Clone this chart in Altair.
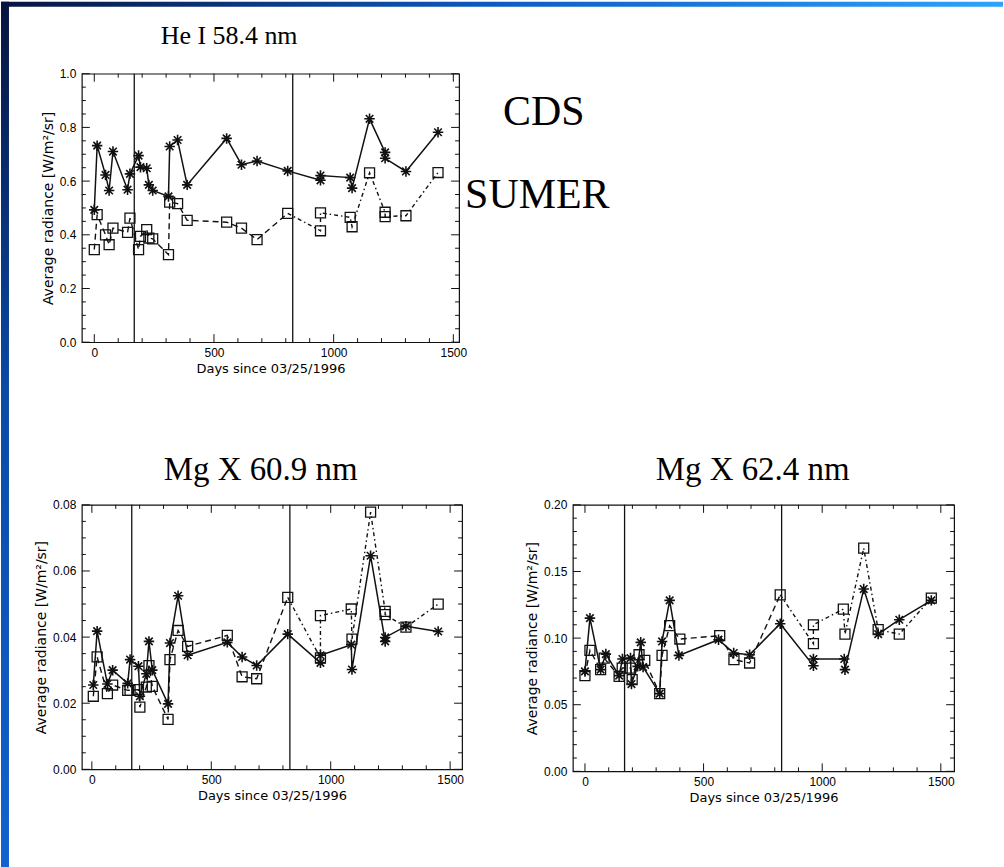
import altair as alt
import pandas as pd

# ---------------- He I 58.4 nm ----------------
he_days = [0, 12, 47, 62, 78, 139, 149, 185, 193, 219, 228, 244, 310, 315, 348,
           388, 553, 615, 680, 808, 945, 945, 1069, 1077, 1150, 1215, 1215, 1302, 1436]
he_cds = [0.493, 0.732, 0.623, 0.565, 0.710, 0.568, 0.627, 0.695, 0.652, 0.648,
          0.586, 0.565, 0.543, 0.729, 0.753, 0.586, 0.759, 0.661, 0.675, 0.638,
          0.603, 0.621, 0.613, 0.574, 0.832, 0.707, 0.685, 0.636, 0.782]
he_sumer = [0.345, 0.475, 0.400, 0.363, 0.425, 0.409, 0.462, 0.345, 0.394, 0.419,
            0.388, 0.385, 0.326, 0.522, 0.516, 0.454, 0.447, 0.425, 0.382, 0.480,
            0.415, 0.482, 0.465, 0.430, 0.631, 0.484, 0.468, 0.471, 0.632]

# ---------------- Mg X 60.9 nm ----------------
mg609_days = [6, 22, 65, 87, 150, 160, 195, 201, 228, 239, 253, 319, 327, 361,
              401, 567, 629, 690, 820, 957, 957, 1086, 1089, 1167, 1228, 1228, 1315, 1450]
mg609_cds = [0.0255, 0.0418, 0.0258, 0.0300, 0.0260, 0.0332, 0.0312, 0.0221, 0.0289,
             0.0387, 0.0300, 0.0198, 0.0382, 0.0525, 0.0345, 0.0384, 0.0340, 0.0314,
             0.0409, 0.0322, 0.0345, 0.0377, 0.0302, 0.0646, 0.0387, 0.0399, 0.0433, 0.0417]
mg609_sumer = [0.0221, 0.0340, 0.0229, 0.0255, 0.0239, 0.0239, 0.0241, 0.0188, 0.0249,
               0.0314, 0.0251, 0.0151, 0.0332, 0.0420, 0.0372, 0.0405, 0.0280, 0.0274,
               0.0520, 0.0337, 0.0465, 0.0485, 0.0394, 0.0778, 0.0478, 0.0468, 0.0430, 0.0500]

# ---------------- Mg X 62.4 nm ----------------
mg624_cds_days = [0, 21, 66, 88, 144, 158, 192, 196, 222, 235, 245, 315, 325, 357,
                  396, 563, 627, 694, 823, 963, 963, 1093, 1096, 1175, 1236, 1325, 1460]
mg624_cds = [0.0750, 0.1150, 0.0763, 0.0880, 0.0718, 0.0843, 0.0850, 0.0655, 0.0788,
             0.0968, 0.0783, 0.0583, 0.0975, 0.1283, 0.0870, 0.0988, 0.0888, 0.0875,
             0.1108, 0.0793, 0.0843, 0.0843, 0.0763, 0.1368, 0.1030, 0.1138, 0.1283]
mg624_sumer_days = [0, 21, 66, 81, 144, 157, 192, 199, 228, 252, 315, 325, 357,
                    400, 568, 628, 694, 823, 963, 963, 1089, 1096, 1175, 1236, 1325, 1460]
mg624_sumer = [0.0718, 0.0908, 0.0763, 0.0850, 0.0713, 0.0775, 0.0775, 0.0688, 0.0875,
               0.0833, 0.0583, 0.0870, 0.1093, 0.0993, 0.1018, 0.0838, 0.0813, 0.1325,
               0.0958, 0.1100, 0.1218, 0.1030, 0.1675, 0.1063, 0.1030, 0.1300]

# Days marked with vertical lines (instrument interruptions)
event_days = [167, 829]

# Axis tick positions
x_major = [0, 500, 1000, 1500]
x_minor = [100, 200, 300, 400, 600, 700, 800, 900, 1100, 1200, 1300, 1400]
he_y_major = [0.0, 0.2, 0.4, 0.6, 0.8, 1.0]
he_y_minor = [0.05, 0.1, 0.15, 0.25, 0.3, 0.35, 0.45, 0.5, 0.55, 0.65, 0.7, 0.75,
              0.85, 0.9, 0.95]
mg609_y_major = [0.0, 0.02, 0.04, 0.06, 0.08]
mg609_y_minor = [0.005, 0.01, 0.015, 0.025, 0.03, 0.035, 0.045, 0.05, 0.055,
                 0.065, 0.07, 0.075]
mg624_y_major = [0.0, 0.05, 0.10, 0.15, 0.20]
mg624_y_minor = [0.01, 0.02, 0.03, 0.04, 0.06, 0.07, 0.08, 0.09, 0.11, 0.12, 0.13,
                 0.14, 0.16, 0.17, 0.18, 0.19]

ASTERISK = "M-1,0L1,0M0,-1L0,1M-0.72,-0.72L0.72,0.72M-0.72,0.72L0.72,-0.72"
INK = "#111111"
SANS = "Liberation Sans"
TITLE_SANS = "DejaVu Sans"
SERIF = "Liberation Serif"


def panel(cds_days, cds_vals, sumer_days, sumer_vals, xdom, ydom, y_major, y_minor,
          yfmt, w, h, title, title_size, title_dx, title_offset, extra=()):
    xs = alt.Scale(domain=xdom, nice=False, zero=False)
    ys = alt.Scale(domain=ydom, nice=False, zero=False)
    x_axis = alt.Axis(values=x_major, format="d", labelFlush=False,
                      title="Days since 03/25/1996", labelPadding=5, titlePadding=4,
                      titleFontSize=13)
    y_axis = alt.Axis(values=y_major, format=yfmt, labelFlush=False,
                      title="Average radiance [W/m²/sr]", labelPadding=6,
                      titlePadding=4, titleFontSize=14)

    def X(field):
        return alt.X(field, scale=xs, axis=x_axis)

    def Y(field):
        return alt.Y(field, scale=ys, axis=y_axis)

    def frame_ticks(vals, side, length):
        """Inward-pointing box ticks on one side of the plot frame."""
        base = alt.Chart(pd.DataFrame({"v": vals})).mark_rule(color=INK, strokeWidth=1)
        if side == "bottom":
            return base.encode(x=X("v:Q"), y=alt.value(h), y2=alt.value(h - length))
        if side == "top":
            return base.encode(x=X("v:Q"), y=alt.value(0), y2=alt.value(length))
        if side == "left":
            return base.encode(y=Y("v:Q"), x=alt.value(0), x2=alt.value(length))
        return base.encode(y=Y("v:Q"), x=alt.value(w), x2=alt.value(w - length))

    cds = pd.DataFrame({"day": cds_days, "val": cds_vals, "i": range(len(cds_days))})
    sumer = pd.DataFrame({"day": sumer_days, "val": sumer_vals,
                          "i": range(len(sumer_days))})
    split = int((sumer["day"] < event_days[1]).sum())
    sumer_pre = sumer.iloc[:split]
    sumer_post = sumer.iloc[split - 1:]

    layers = []
    for side in ("bottom", "top"):
        layers.append(frame_ticks(x_major, side, 8))
        layers.append(frame_ticks(x_minor, side, 4))
    for side in ("left", "right"):
        layers.append(frame_ticks(y_major, side, 8))
        layers.append(frame_ticks(y_minor, side, 4))

    layers.append(
        alt.Chart(pd.DataFrame({"day": event_days}))
        .mark_rule(color=INK, strokeWidth=1.3)
        .encode(x=X("day:Q"))
    )

    # CDS: solid line with asterisks
    layers.append(
        alt.Chart(cds).mark_line(color=INK, strokeWidth=1.5)
        .encode(x=X("day:Q"), y=Y("val:Q"), order="i:O")
    )
    layers.append(
        alt.Chart(cds).mark_point(shape=ASTERISK, filled=False, color=INK, size=110,
                                  strokeWidth=1.6, opacity=1)
        .encode(x=X("day:Q"), y=Y("val:Q"))
    )

    # SUMER: dashed before the second event, dash-dot afterwards, square symbols
    layers.append(
        alt.Chart(sumer_pre).mark_line(color=INK, strokeWidth=1.4, strokeDash=[6, 4])
        .encode(x=X("day:Q"), y=Y("val:Q"), order="i:O")
    )
    layers.append(
        alt.Chart(sumer_post).mark_line(color=INK, strokeWidth=1.4,
                                        strokeDash=[4, 3, 1.5, 3])
        .encode(x=X("day:Q"), y=Y("val:Q"), order="i:O")
    )
    layers.append(
        alt.Chart(sumer).mark_point(shape="square", filled=False, color=INK, size=100,
                                    strokeWidth=1.3, opacity=1)
        .encode(x=X("day:Q"), y=Y("val:Q"))
    )
    layers.extend(extra)

    return alt.layer(*layers).properties(
        width=w, height=h,
        title=alt.TitleParams(text=title, font=SERIF, fontSize=title_size,
                              fontWeight="normal", color="black", anchor="start",
                              frame="group", dx=title_dx, offset=title_offset,
                              baseline="alphabetic"),
    )


one = pd.DataFrame({"k": [0]})
instrument_labels = [
    alt.Chart(one).mark_text(text="CDS", font=SERIF, fontSize=42, color="black",
                             align="left", baseline="alphabetic")
    .encode(x=alt.value(422), y=alt.value(51)),
    alt.Chart(one).mark_text(text="SUMER", font=SERIF, fontSize=42, color="black",
                             align="left", baseline="alphabetic")
    .encode(x=alt.value(384), y=alt.value(135)),
]

he_panel = panel(he_days, he_cds, he_days, he_sumer, [-52, 1524], [0, 1],
                 he_y_major, he_y_minor, ".1f", 378, 269,
                 "He I 58.4 nm", 26, 79, -2, instrument_labels)
mg609_panel = panel(mg609_days, mg609_cds, mg609_days, mg609_sumer, [-42, 1550],
                    [0, 0.08], mg609_y_major, mg609_y_minor, ".2f", 381, 265,
                    "Mg X 60.9 nm", 33, 82, -14)
mg624_panel = panel(mg624_cds_days, mg624_cds, mg624_sumer_days, mg624_sumer,
                    [-51, 1556], [0, 0.2], mg624_y_major, mg624_y_minor, ".2f",
                    382, 267, "Mg X 62.4 nm", 33, 83, -14)

# Slide frame: blue strips along the left and top edges
left_strip = alt.Chart(one).mark_rect(
    color=alt.LinearGradient(
        gradient="linear", x1=0, x2=0, y1=0, y2=1,
        stops=[alt.GradientStop(color="#07143f", offset=0),
               alt.GradientStop(color="#0a4aa6", offset=0.45),
               alt.GradientStop(color="#1262cf", offset=1)])
).encode(x=alt.value(-573), x2=alt.value(-565), y=alt.value(-72), y2=alt.value(795))
top_strip = alt.Chart(one).mark_rect(
    color=alt.LinearGradient(
        gradient="linear", x1=0, x2=1, y1=0, y2=0,
        stops=[alt.GradientStop(color="#07143f", offset=0),
               alt.GradientStop(color="#0d5cc4", offset=0.5),
               alt.GradientStop(color="#2ea3fa", offset=1)])
).encode(x=alt.value(-573), x2=alt.value(431), y=alt.value(-72), y2=alt.value(-67))
frame_cell = alt.layer(left_strip, top_strip).properties(
    width=10, height=10, view=alt.ViewBackground(stroke="transparent"))

chart = alt.concat(
    he_panel, frame_cell, mg609_panel, mg624_panel,
    columns=2, spacing={"row": 163, "column": 111}, bounds="flush",
).properties(
    padding=0, background="white"
).configure_view(
    stroke=INK, strokeWidth=1.2
).configure_axis(
    labelFont=SANS, titleFont=TITLE_SANS, labelFontSize=12,
    titleFontWeight="normal", labelColor="black", titleColor="black",
    grid=False, domain=False, ticks=False, tickSize=0,
)

chart.save("out.html", embed_options={"renderer": "svg", "actions": False})
